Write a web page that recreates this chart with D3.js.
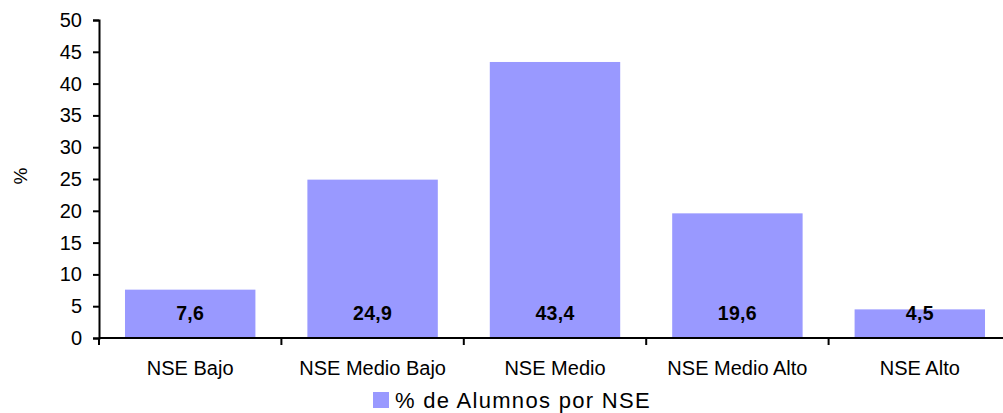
<!DOCTYPE html>
<html>
<head>
<meta charset="utf-8">
<script src="https://cdn.jsdelivr.net/npm/d3@7"></script>
<style>
  body { margin: 0; background: #fff; }
  text { font-family: "Liberation Sans", Arial, sans-serif; fill: #000; }
</style>
</head>
<body>
<svg id="chart"></svg>
<script>
const categories = ["NSE Bajo", "NSE Medio Bajo", "NSE Medio", "NSE Medio Alto", "NSE Alto"];
const values = [7.6, 24.9, 43.4, 19.6, 4.5];
const valueLabels = ["7,6", "24,9", "43,4", "19,6", "4,5"];
const yTicks = [0, 5, 10, 15, 20, 25, 30, 35, 40, 45, 50];
const seriesName = "% de Alumnos por NSE";

const W = 1003, H = 413;
const margin = {top: 20, right: -8, bottom: 75, left: 99};
const width = W - margin.left - margin.right,
      height = H - margin.top - margin.bottom;

const svg = d3.select("#chart")
    .attr("width", W)
    .attr("height", H);

const g = svg.append("g")
    .attr("transform", `translate(${margin.left},${margin.top})`);

const x = d3.scaleBand()
    .domain(categories)
    .range([0, width])
    .paddingInner(0.285)
    .paddingOuter(0.1425);

const y = d3.scaleLinear()
    .domain([0, 50])
    .range([height, 0]);

// bars
g.selectAll("rect.bar")
    .data(values)
    .join("rect")
    .attr("class", "bar")
    .attr("x", (d, i) => x(categories[i]))
    .attr("width", x.bandwidth())
    .attr("y", d => y(d))
    .attr("height", d => y(0) - y(d))
    .attr("fill", "#9999ff");

// value labels, all sitting near the base
g.selectAll("text.val")
    .data(valueLabels)
    .join("text")
    .attr("class", "val")
    .attr("x", (d, i) => x(categories[i]) + x.bandwidth() / 2)
    .attr("y", y(0) - 18.5)
    .attr("text-anchor", "middle")
    .style("font-size", "19.5px")
    .style("font-weight", "bold")
    .style("letter-spacing", "0.3px")
    .text(d => d);

// y axis
const yAxis = g.append("g")
    .call(d3.axisLeft(y).tickValues(yTicks).tickSize(6).tickPadding(11));
yAxis.select(".domain").attr("stroke", "#000").attr("stroke-width", 2);
yAxis.selectAll(".tick line").attr("stroke", "#000").attr("stroke-width", 2);
yAxis.selectAll(".tick text")
    .style("font-size", "20px")
    .attr("fill", "#000");

// x axis with ticks between categories
const xAxis = g.append("g")
    .attr("transform", `translate(0,${height})`);
xAxis.append("line")
    .attr("x1", 0).attr("x2", width)
    .attr("stroke", "#000").attr("stroke-width", 2);
const step = x.step();
const bounds = d3.range(categories.length + 1).map(i => x(categories[0]) - x.paddingInner() * step / 2 + i * step);
xAxis.selectAll("line.tk")
    .data(bounds)
    .join("line")
    .attr("class", "tk")
    .attr("x1", d => d).attr("x2", d => d)
    .attr("y1", 0).attr("y2", 7)
    .attr("stroke", "#000").attr("stroke-width", 2);
xAxis.selectAll("text.cat")
    .data(categories)
    .join("text")
    .attr("class", "cat")
    .attr("x", d => x(d) + x.bandwidth() / 2)
    .attr("y", 37)
    .attr("text-anchor", "middle")
    .style("font-size", "20px")
    .text(d => d);

// y axis title
svg.append("text")
    .attr("transform", "translate(27,176) rotate(-90)")
    .attr("text-anchor", "middle")
    .style("font-size", "19px")
    .text("%");

// legend
const legend = svg.append("g")
    .attr("transform", "translate(373,392)");
legend.append("rect")
    .attr("width", 16).attr("height", 16)
    .attr("fill", "#9999ff");
legend.append("text")
    .attr("x", 22)
    .attr("y", 16)
    .style("font-size", "22px")
    .style("letter-spacing", "1.3px")
    .text(seriesName);
</script>
</body>
</html>
